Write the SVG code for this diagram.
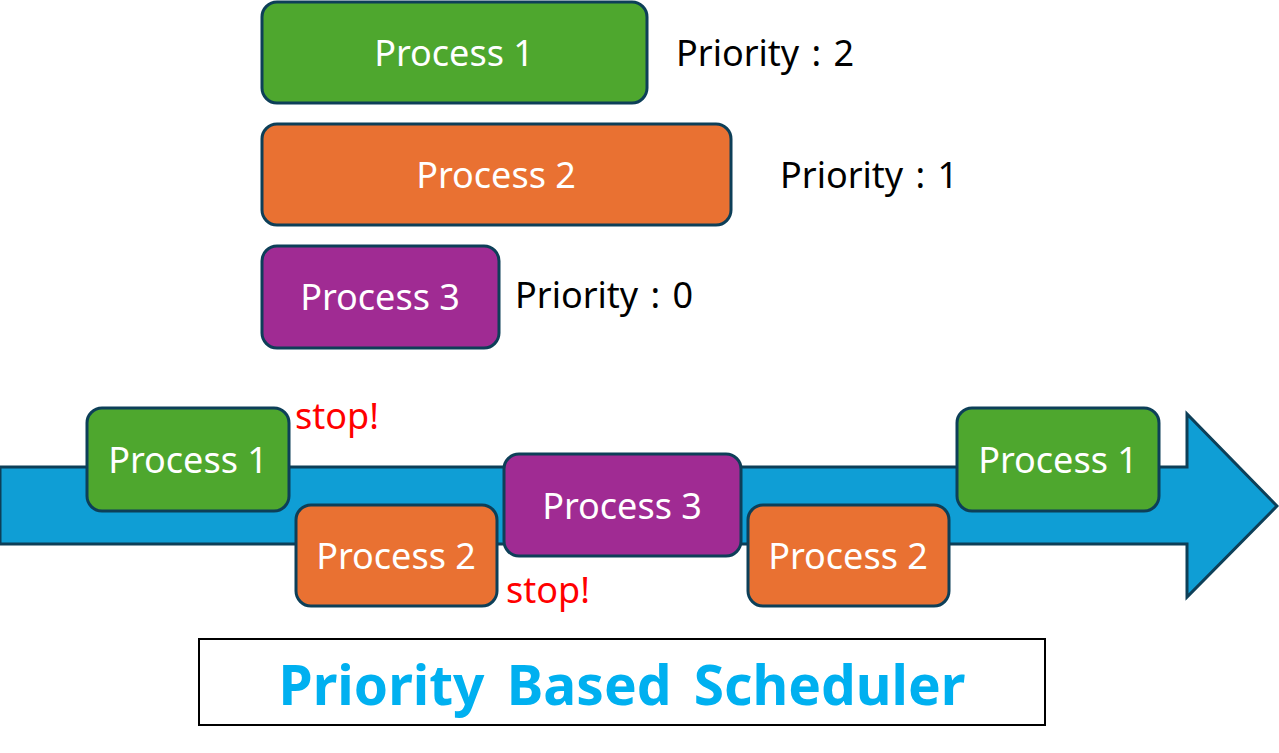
<svg xmlns="http://www.w3.org/2000/svg" width="1279" height="753" viewBox="0 0 1279 753">
<style>
.box{stroke:#0d3f58;stroke-width:3}
.g{fill:#4ea72e}.o{fill:#e97132}.p{fill:#a02b93}
.t{font-family:"Noto Sans","Open Sans",sans-serif;font-size:36px;fill:#fff;text-anchor:middle}
.pr{font-family:"Noto Sans","Open Sans",sans-serif;font-size:36px;fill:#000;word-spacing:3px}
.stop{font-family:"Noto Sans","Open Sans",sans-serif;font-size:36px;fill:#ff0000}
</style>
<rect width="1279" height="753" fill="#fff"/>
<g id="top-p1"><rect class="box g" x="262" y="2" width="385" height="101" rx="15"/><text class="t" x="454" y="66">Process 1</text></g>
<text class="pr" x="676" y="66">Priority : 2</text>
<g id="top-p2"><rect class="box o" x="262" y="124" width="469" height="101" rx="15"/><text class="t" x="496" y="188">Process 2</text></g>
<text class="pr" x="780" y="188">Priority : 1</text>
<g id="top-p3"><rect class="box p" x="262" y="246" width="237" height="102" rx="15"/><text class="t" x="380" y="310">Process 3</text></g>
<text class="pr" x="515" y="308">Priority : 0</text>
<g id="timeline"><path d="M0,467 H1187 V414 L1277,506 L1187,597 V544 H0 Z" fill="#0f9ed5" stroke="#0d3f58" stroke-width="3"/></g>
<g id="tl-p1a"><rect class="box g" x="87" y="408" width="202" height="103" rx="15"/><text class="t" x="188" y="473">Process 1</text></g>
<g id="tl-p2a"><rect class="box o" x="296" y="505" width="201" height="101" rx="15"/><text class="t" x="396" y="569">Process 2</text></g>
<g id="tl-p3"><rect class="box p" x="504" y="454" width="237" height="102" rx="15"/><text class="t" x="622" y="519">Process 3</text></g>
<g id="tl-p2b"><rect class="box o" x="748" y="505" width="201" height="101" rx="15"/><text class="t" x="848" y="569">Process 2</text></g>
<g id="tl-p1b"><rect class="box g" x="957" y="408" width="202" height="103" rx="15"/><text class="t" x="1058" y="473">Process 1</text></g>
<text class="stop" x="295" y="429">stop!</text>
<text class="stop" x="506" y="603">stop!</text>
<g id="title"><rect x="199" y="639" width="846" height="86" fill="#fff" stroke="#000" stroke-width="2"/><text x="622" y="705" font-family="'Noto Sans','Open Sans',sans-serif" font-size="55" font-weight="bold" fill="#00b0f0" text-anchor="middle" word-spacing="8">Priority Based Scheduler</text></g>
</svg>
